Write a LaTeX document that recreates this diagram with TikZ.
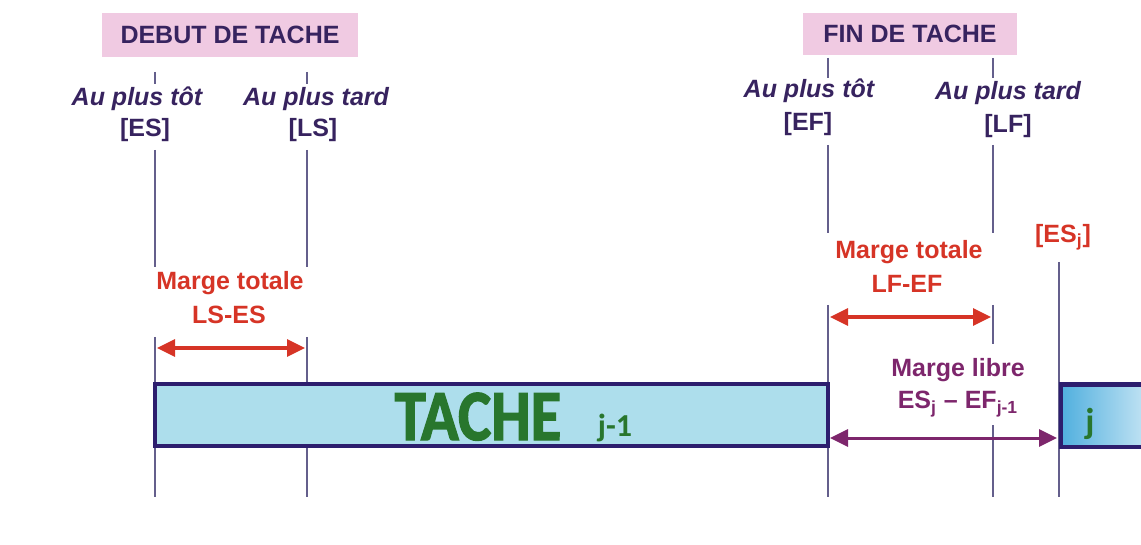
\documentclass[tikz,border=0pt]{standalone}
\usepackage{fontspec}
\setmainfont{Liberation Sans}
\newfontfamily\calfont{Carlito}
\newfontfamily\calfontfat{Carlito}[BoldFeatures={FakeBold=2}]
\usetikzlibrary{arrows.meta}

\definecolor{ink}{RGB}{55,35,95}
\definecolor{headpink}{RGB}{240,202,226}
\definecolor{margered}{RGB}{214,52,38}
\definecolor{margeviolet}{RGB}{125,38,108}
\definecolor{guidegray}{RGB}{100,95,140}
\definecolor{tachefill}{RGB}{173,222,236}
\definecolor{tacheborder}{RGB}{45,30,110}
\definecolor{tachegreen}{RGB}{40,118,45}
\definecolor{jblue}{RGB}{80,175,222}

\begin{document}
\begin{tikzpicture}[x=0.5pt, y=-0.5pt,
	head/.style={fill=headpink, text=ink, font=\bfseries\fontsize{12.5}{15}\selectfont, minimum height=22pt, inner xsep=0pt},
	lbl/.style={text=ink, font=\bfseries\itshape\fontsize{12.5}{15}\selectfont, inner sep=0pt},
	code/.style={text=ink, font=\bfseries\fontsize{12.5}{15}\selectfont, inner sep=0pt},
	rouge/.style={text=margered, font=\bfseries\fontsize{12.5}{15}\selectfont, inner sep=0pt},
	libre/.style={text=margeviolet, font=\bfseries\fontsize{12.5}{15}\selectfont, inner sep=0pt},
	guide/.style={draw=guidegray, line width=0.7pt},
	span/.style={{Triangle[length=9pt,width=8.5pt]}-{Triangle[length=9pt,width=8.5pt]}, line width=1.6pt, shorten <=1pt, shorten >=1pt},
	tache/.style={draw=tacheborder, line width=2pt, inner sep=0pt}]
	\useasboundingbox (0,0) rectangle (1141,545);

	% guide lines
	\coordinate (ES1) at (155,72);  \coordinate (ES2) at (155,84);  \coordinate (ES3) at (155,150);  \coordinate (ES4) at (155,267);  \coordinate (ES5) at (155,337);  \coordinate (ES6) at (155,497);
	\coordinate (LS1) at (307,72);  \coordinate (LS2) at (307,84);  \coordinate (LS3) at (307,150);  \coordinate (LS4) at (307,267);  \coordinate (LS5) at (307,337);  \coordinate (LS6) at (307,497);
	\coordinate (EF1) at (828,58);  \coordinate (EF2) at (828,78);  \coordinate (EF3) at (828,145);  \coordinate (EF4) at (828,233);  \coordinate (EF5) at (828,305);  \coordinate (EF6) at (828,497);
	\coordinate (LF1) at (993,58);  \coordinate (LF2) at (993,78);  \coordinate (LF3) at (993,145);  \coordinate (LF4) at (993,233);  \coordinate (LF5) at (993,305);  \coordinate (LF6) at (993,344);
	\coordinate (LF7) at (993,425); \coordinate (LF8) at (993,497);
	\coordinate (ESj1) at (1059,262); \coordinate (ESj2) at (1059,497);

	\draw[guide] (ES1) -- (ES2);  \draw[guide] (ES3) -- (ES4);  \draw[guide] (ES5) -- (ES6);
	\draw[guide] (LS1) -- (LS2);  \draw[guide] (LS3) -- (LS4);  \draw[guide] (LS5) -- (LS6);
	\draw[guide] (EF1) -- (EF2);  \draw[guide] (EF3) -- (EF4);  \draw[guide] (EF5) -- (EF6);
	\draw[guide] (LF1) -- (LF2);  \draw[guide] (LF3) -- (LF4);  \draw[guide] (LF5) -- (LF6);  \draw[guide] (LF7) -- (LF8);
	\draw[guide] (ESj1) -- (ESj2);

	% headers
	\node[head, minimum width=128pt] (debut) at (230,35) {DEBUT DE TACHE};
	\node[head, minimum width=107pt, minimum height=21pt] (fin) at (910,34) {FIN DE TACHE};

	\node[lbl] (tot1) at (137,99) {Au plus tôt};
	\node[code] (ES) at (145,130) {[ES]};
	\node[lbl] (tard1) at (316,99) {Au plus tard};
	\node[code] (LS) at (313,130) {[LS]};
	\node[lbl] (tot2) at (809,91) {Au plus tôt};
	\node[code] (EF) at (808,124) {[EF]};
	\node[lbl] (tard2) at (1008,93) {Au plus tard};
	\node[code] (LF) at (1008,126) {[LF]};

	% tasks
	\node[tache, fill=tachefill, minimum width=336.5pt, minimum height=31pt] (T) at (491.5,415) {};
	\node[text=tachegreen, font=\calfontfat\bfseries\fontsize{36}{40}\selectfont, inner sep=0pt, anchor=base] (Tname) at (478,440) {\scalebox{0.87}[1]{TACHE}};
	\node[text=tachegreen, font=\calfont\bfseries\fontsize{16}{18}\selectfont, inner sep=0pt, anchor=base] (Tidx) at (615,437) {j-1};
	\node[tache, left color=jblue, right color=jblue!8, minimum width=60pt, minimum height=31pt, anchor=west] (J) at (1059,415.5) {};
	\node[text=tachegreen, font=\calfont\bfseries\fontsize{18}{20}\selectfont, inner sep=0pt, anchor=base] (Jname) at (1090,433) {j};

	% margins
	\coordinate (m1a) at (155,348);  \coordinate (m1b) at (307,348);
	\coordinate (m2a) at (828,317);  \coordinate (m2b) at (993,317);
	\coordinate (m3a) at (828,438);  \coordinate (m3b) at (1059,438);

	\node[rouge] (mt1) at (230,283) {Marge totale};
	\node[rouge] (mt1v) at (229,315) {LS-ES};
	\draw[span, margered] (m1a) -- (m1b);

	\node[rouge] (mt2) at (909,252) {Marge totale};
	\node[rouge] (mt2v) at (907,284) {LF-EF};
	\draw[span, margered] (m2a) -- (m2b);
	\node[rouge] (ESj) at (1063,237) {[ES\textsubscript{j}]};

	\node[libre] (ml) at (958,370) {Marge libre};
	\node[libre] (mlv) at (958,404) {ES\textsubscript{j} -- EF\textsubscript{j-1}};
	\draw[span, margeviolet, line width=1.5pt] (m3a) -- (m3b);
\end{tikzpicture}
\end{document}
